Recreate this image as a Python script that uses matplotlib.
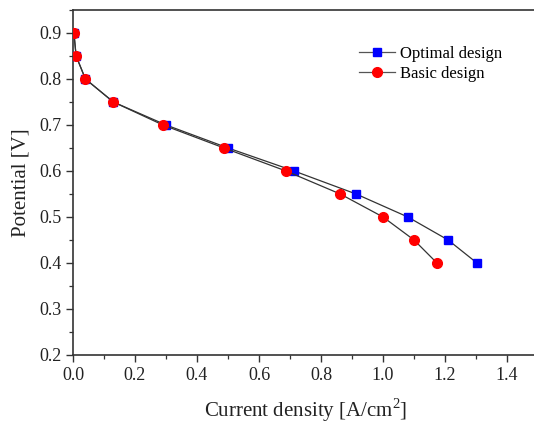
import matplotlib
matplotlib.use("Agg")
import matplotlib.pyplot as plt
from matplotlib.ticker import MultipleLocator

# Polarization curves: potential [V] vs current density [A/cm2]
potential = [0.90, 0.85, 0.80, 0.75, 0.70, 0.65, 0.60, 0.55, 0.50, 0.45, 0.40]
optimal_current = [0.003, 0.01, 0.04, 0.13, 0.30, 0.50, 0.713, 0.913, 1.08, 1.21, 1.303]
basic_current = [0.003, 0.01, 0.04, 0.13, 0.29, 0.487, 0.687, 0.862, 1.00, 1.10, 1.174]

x_ticks = [0.0, 0.2, 0.4, 0.6, 0.8, 1.0, 1.2, 1.4]
y_ticks = [0.2, 0.3, 0.4, 0.5, 0.6, 0.7, 0.8, 0.9]

plt.rcParams["font.family"] = ["Liberation Serif", "DejaVu Serif"]
plt.rcParams["mathtext.fontset"] = "custom"
plt.rcParams["mathtext.rm"] = "Liberation Serif"

fig = plt.figure(figsize=(5.34, 4.26), dpi=100)
# the right edge of the frame runs past the figure border
ax = fig.add_axes([0.1367, 0.1667, 0.8708, 0.8099])

line_col = "#333333"
ax.plot(optimal_current, potential, color=line_col, lw=0.9, marker="s",
        ms=6, mfc="#0000ff", mec="#0000ff", label="Optimal design", zorder=3)
ax.plot(basic_current, potential, color=line_col, lw=0.9, marker="o",
        ms=7, mfc="#ff0000", mec="#ff0000", label="Basic design", zorder=4)

ax.set_xlim(0.0, 1.5)
ax.set_ylim(0.2, 0.95)
ax.set_xticks(x_ticks)
ax.set_xticklabels([f"{v:.1f}" for v in x_ticks])
ax.set_yticks(y_ticks)
ax.set_yticklabels([f"{v:.1f}" for v in y_ticks])
ax.xaxis.set_minor_locator(MultipleLocator(0.1))
ax.yaxis.set_minor_locator(MultipleLocator(0.05))

for s in ax.spines.values():
    s.set_color(line_col)
    s.set_linewidth(1.2)
ax.tick_params(which="major", direction="out", length=5, width=1.0,
               colors=line_col, labelcolor="#222222", labelsize=13)
ax.tick_params(which="minor", direction="out", length=3, width=0.9,
               colors=line_col)
ax.tick_params(top=False, right=False, which="both")

ax.set_xlabel("Current density [A/cm$^2$]", fontsize=15, color="#222222",
              labelpad=9)
ax.set_ylabel("Potential [V]", fontsize=15, color="#222222", labelpad=6)

leg = ax.legend(loc="upper left", bbox_to_anchor=(0.60, 0.915), frameon=False,
                fontsize=12, handlelength=2.2, handletextpad=0.3,
                labelspacing=0.25, borderaxespad=0)
for h in leg.get_lines():
    h.set_color("#555555")

fig.savefig("out.png", dpi=100, facecolor="white")
